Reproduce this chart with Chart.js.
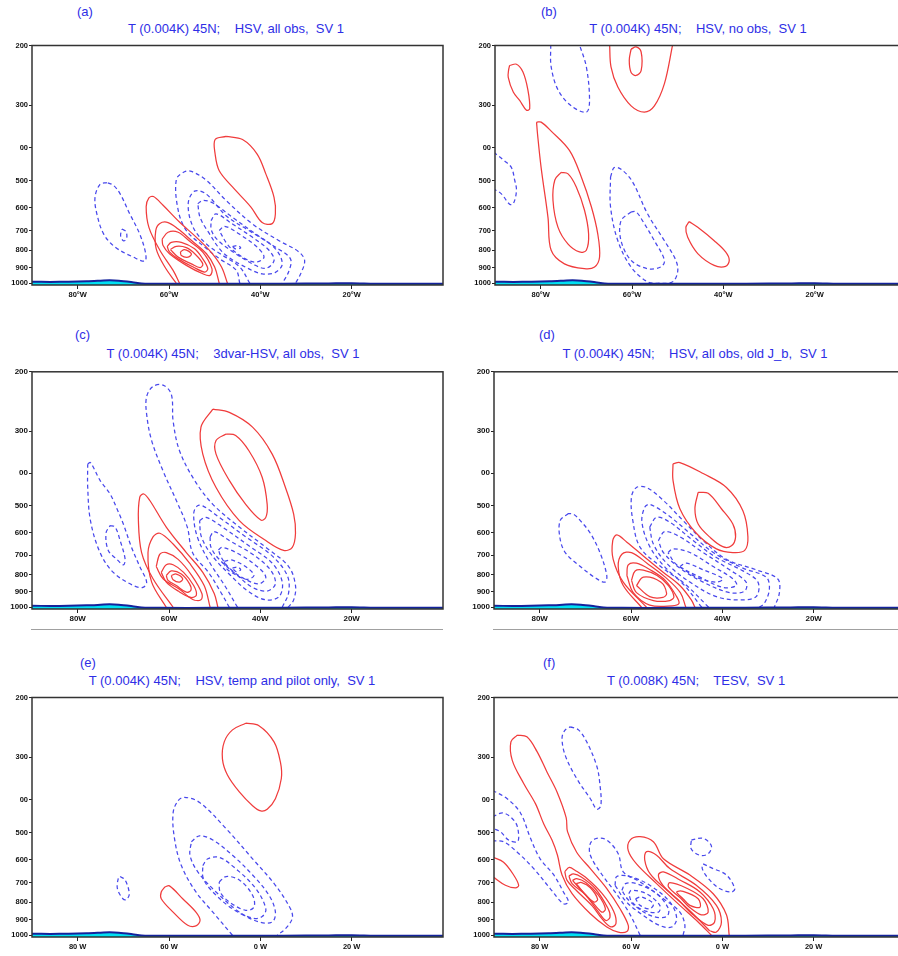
<!DOCTYPE html>
<html>
<head>
<meta charset="utf-8">
<script src="https://cdn.jsdelivr.net/npm/chart.js@4.4.0/dist/chart.umd.min.js"></script>
<style>
body{margin:0;background:#fff;width:898px;height:956px;overflow:hidden;position:relative;font-family:Arial,"Liberation Sans",sans-serif}
canvas{position:absolute}
.lab,.ttl{position:absolute;color:#2e2ee6;font-size:13px;white-space:pre;line-height:14px}
.ttl{transform:translateX(-50%)}
.rule{position:absolute;height:1px;background:#a0a0a0}
</style>
</head>
<body>
<div class="lab" style="left:77px;top:5px">(a)</div>
<div class="ttl" style="left:236px;top:22px">T (0.004K) 45N;    HSV, all obs,  SV 1</div>
<div class="lab" style="left:541px;top:5px">(b)</div>
<div class="ttl" style="left:698px;top:22px">T (0.004K) 45N;    HSV, no obs,  SV 1</div>
<div class="lab" style="left:75px;top:328px">(c)</div>
<div class="ttl" style="left:233px;top:347px">T (0.004K) 45N;    3dvar-HSV, all obs,  SV 1</div>
<div class="lab" style="left:539px;top:328px">(d)</div>
<div class="ttl" style="left:695px;top:347px">T (0.004K) 45N;    HSV, all obs, old J_b,  SV 1</div>
<div class="lab" style="left:80px;top:656px">(e)</div>
<div class="ttl" style="left:232px;top:674px">T (0.004K) 45N;    HSV, temp and pilot only,  SV 1</div>
<div class="lab" style="left:543px;top:656px">(f)</div>
<div class="ttl" style="left:696px;top:674px">T (0.008K) 45N;    TESV,  SV 1</div>

<canvas id="pa" width="450" height="265" style="left:0;top:40px"></canvas>
<canvas id="pb" width="450" height="265" style="left:463px;top:40px"></canvas>
<canvas id="pc" width="450" height="263" style="left:0;top:366px"></canvas>
<canvas id="pd" width="450" height="263" style="left:462px;top:366px"></canvas>
<canvas id="pe" width="450" height="265" style="left:0;top:692px"></canvas>
<canvas id="pf" width="450" height="265" style="left:462px;top:692px"></canvas>
<div class="rule" style="left:31px;top:629px;width:412px"></div>
<div class="rule" style="left:493px;top:629px;width:405px"></div>

<script>
// axes
const yTickVals = [200, 300, 400, 500, 600, 700, 800, 900, 1000];
const yLabels = ["200", "300", "00", "500", "600", "700", "800", "900", "1000"];
const xTickVals = [-80, -60, -40, -20];
const xLabelsDeg = ["80°W", "60°W", "40°W", "20°W"];
const xLabelsPlain = ["80W", "60W", "40W", "20W"];
const xLabelsSp = ["80 W", "60 W", "0 W", "20 W"];

// surface (orography) line near 1000 hPa
const surfLon = [-90, -86, -82, -78, -75, -73, -71, -68, -66, -62, -50, -35, -25, -20, -15, -8, 0];
const surfP = [990, 991, 990, 987, 983, 980, 983, 993, 1001, 1004, 1004, 1003, 1001, 1000, 1003, 1004, 1003];

// contours: [lon, pressure]; red = positive, blue = negative
const aRed = [
  [[-47.5,370],[-43.9,378],[-40.7,417],[-38.8,477],[-37.0,559],[-36.7,625],[-37.4,668],[-39.6,663],[-42.1,596],[-46.1,521],[-49.0,467],[-49.9,417],[-49.9,378]],
  [[-57.7,1000],[-59.1,917],[-62.0,800],[-64.4,685],[-65.0,596],[-64.4,561],[-63.4,556],[-61.3,590],[-57.6,663],[-54.0,733],[-50.8,810],[-48.5,896],[-47.2,1000]],
  [[-58.4,1000],[-60.9,896],[-62.8,792],[-62.9,700],[-62.0,667],[-60.2,663],[-58.0,693],[-55.0,750],[-51.8,819],[-50.0,896],[-49.0,1000]],
  [[-61.5,742],[-60.2,708],[-58.0,708],[-55.6,750],[-52.6,810],[-50.6,906],[-51.0,948],[-52.6,938],[-56.2,886],[-59.9,819],[-61.3,775]],
  [[-60.4,779],[-59.5,758],[-57.3,758],[-54.4,792],[-52.6,848],[-51.5,906],[-52.2,927],[-54.7,896],[-58.0,848],[-59.9,809]],
  [[-59.7,796],[-58.4,779],[-56.2,786],[-54.2,823],[-52.6,877],[-53.2,900],[-55.1,877],[-58.0,838]],
  [[-57.5,809],[-56.6,796],[-55.1,819],[-55.8,838],[-57.3,829]]
];
const aBlue = [
  [[-73.6,506],[-75.1,512],[-76.2,559],[-75.8,625],[-74.3,717],[-71.8,783],[-67.8,838],[-65.3,861],[-65.1,819],[-66.4,717],[-68.6,625],[-70.7,546],[-72.2,515]],
  [[-70.3,693],[-69.4,705],[-69.3,740],[-70.0,750],[-70.6,725]],
  [[-44.5,1000],[-45.3,915],[-48.9,848],[-52.6,775],[-56.2,700],[-58.0,609],[-58.4,496],[-56.6,470],[-55.1,469],[-51.9,497],[-47.5,571],[-41.7,670],[-35.9,750],[-31.6,808],[-30.3,858],[-31.2,940],[-32.3,1000]],
  [[-42.3,1000],[-44.5,896],[-48.2,829],[-51.8,767],[-54.7,685],[-55.8,584],[-54.4,536],[-51.9,546],[-47.5,633],[-42.5,700],[-36.7,783],[-33.4,848],[-33.8,925],[-35.2,1000]],
  [[-53.7,584],[-52.6,571],[-50.4,581],[-46.1,640],[-41.0,717],[-36.7,792],[-35.2,877],[-36.7,929],[-39.6,938],[-43.0,900],[-48.0,817],[-51.6,700],[-53.2,640]],
  [[-50.8,655],[-49.7,625],[-46.1,670],[-41.7,733],[-38.1,800],[-37.0,858],[-38.8,904],[-41.5,880],[-45.5,817],[-49.2,750],[-50.7,700]],
  [[-49.0,700],[-47.8,680],[-44.6,717],[-40.7,783],[-39.2,838],[-41.0,867],[-43.8,840],[-47.0,775]],
  [[-46.1,780],[-45.0,775],[-44.3,787],[-45.4,793]]
];

const bRed = [
  [[-86.8,229],[-85.3,227],[-83.9,239],[-82.8,270],[-82.4,307],[-83.1,310],[-84.6,290],[-86.0,274],[-87.1,248],[-87.0,235]],
  [[-64.9,199],[-64.6,231],[-63.1,265],[-60.2,301],[-57.3,314],[-55.1,301],[-52.9,259],[-51.1,199]],
  [[-60.2,205],[-59.1,202],[-58.0,209],[-58.0,237],[-59.1,245],[-60.2,240],[-60.6,221]],
  [[-80.9,336],[-79.9,336],[-77.7,357],[-73.7,407],[-71.1,487],[-68.9,596],[-67.5,716],[-67.1,837],[-68.2,896],[-70.4,906],[-74.8,877],[-77.7,800],[-78.4,640],[-79.9,457],[-80.7,363]],
  [[-75.5,472],[-74.0,477],[-72.2,521],[-70.4,610],[-69.5,717],[-70.0,800],[-71.5,809],[-74.0,767],[-76.2,685],[-77.3,571],[-76.9,497]],
  [[-47.5,659],[-45.6,685],[-42.0,750],[-39.5,809],[-38.7,856],[-39.5,892],[-42.0,886],[-45.6,818],[-47.8,733],[-48.2,685]]
];
const bBlue = [
  [[-77.8,199],[-77.7,231],[-76.2,270],[-73.3,301],[-70.0,314],[-69.3,290],[-70.0,231],[-71.5,199]],
  [[-90.3,412],[-87.9,437],[-86.4,457],[-85.7,497],[-85.3,534],[-86.0,584],[-86.8,586],[-88.6,546],[-90.3,528]],
  [[-64.7,487],[-63.9,457],[-62.4,462],[-59.9,503],[-56.6,625],[-52.9,750],[-50.4,856],[-50.0,925],[-51.1,990],[-54.0,1000],[-56.6,990],[-60.2,896],[-63.1,750],[-64.7,596]],
  [[-60.2,617],[-62.4,655],[-62.4,750],[-60.2,856],[-56.6,906],[-53.7,896],[-52.9,856],[-55.1,750],[-57.7,655],[-59.1,617]]
];

const cRed = [
  [[-50.4,258],[-46.8,264],[-41.7,292],[-37.4,351],[-34.5,441],[-32.7,529],[-32.3,603],[-33.0,664],[-34.9,678],[-38.8,634],[-44.6,553],[-49.7,441],[-52.6,351],[-53.0,292]],
  [[-47.5,306],[-45.4,309],[-42.5,343],[-39.6,411],[-38.5,495],[-38.8,541],[-39.9,551],[-43.2,495],[-46.8,420],[-49.7,351],[-49.7,320]],
  [[-59.1,1000],[-63.5,823],[-66.0,688],[-66.7,553],[-66.4,471],[-65.5,461],[-64.2,482],[-60.6,578],[-56.2,688],[-52.6,788],[-50.1,910],[-49.3,1000]],
  [[-60.6,1000],[-63.8,842],[-64.6,688],[-63.5,618],[-62.0,603],[-59.1,649],[-55.5,740],[-52.3,862],[-51.0,1000]],
  [[-62.8,757],[-62.0,696],[-60.6,688],[-58.0,721],[-55.0,805],[-52.8,910],[-53.0,950],[-54.8,948],[-57.7,884],[-61.3,823]],
  [[-61.7,788],[-60.6,748],[-59.1,748],[-56.8,788],[-54.6,862],[-54.0,920],[-55.2,935],[-58.0,895],[-60.6,842]],
  [[-60.6,805],[-59.5,780],[-57.3,797],[-55.5,852],[-55.2,890],[-56.2,902],[-58.4,862],[-60.2,832]],
  [[-59.5,805],[-58.4,797],[-57.0,823],[-57.7,842],[-59.1,828]]
];
const cBlue = [
  [[-46.8,1000],[-48.5,910],[-51.3,790],[-54.8,690],[-56.0,578],[-58.4,482],[-61.3,394],[-63.8,320],[-64.9,267],[-64.9,237],[-63.5,221],[-61.3,219],[-59.5,233],[-59.1,280],[-57.7,343],[-54.4,420],[-50.4,495],[-44.6,578],[-38.8,664],[-33.8,757],[-32.3,862],[-32.7,951],[-33.9,1000]],
  [[-45.0,1000],[-47.8,862],[-51.0,740],[-53.8,618],[-54.6,529],[-53.8,500],[-52.6,500],[-49.0,541],[-43.2,618],[-37.4,704],[-34.1,805],[-33.8,905],[-35.2,1000]],
  [[-53.3,553],[-51.9,541],[-48.3,578],[-42.5,657],[-37.4,740],[-35.2,842],[-35.9,930],[-38.8,951],[-42.5,900],[-46.5,805],[-50.5,704],[-52.9,618]],
  [[-51.0,618],[-50.1,596],[-46.8,634],[-41.7,696],[-37.8,774],[-36.7,852],[-38.5,895],[-41.7,873],[-45.0,805],[-49.0,721],[-50.8,664]],
  [[-49.2,675],[-48.3,664],[-44.6,696],[-40.7,757],[-38.8,814],[-40.3,852],[-43.5,823],[-46.8,765],[-48.5,713]],
  [[-47.9,730],[-46.1,725],[-42.8,765],[-41.4,805],[-43.0,826],[-45.7,797],[-47.5,765]],
  [[-46.1,765],[-45.0,760],[-44.3,774],[-45.4,783]],
  [[-77.8,376],[-77.2,372],[-75.1,420],[-72.9,461],[-71.4,510],[-70.0,566],[-68.2,664],[-66.4,757],[-64.9,842],[-65.7,873],[-67.8,862],[-72.2,788],[-75.1,688],[-77.2,553],[-77.8,441]],
  [[-72.9,572],[-71.8,578],[-70.7,634],[-69.6,721],[-70.0,748],[-71.4,721],[-73.3,678],[-73.8,603]]
];

const dRed = [
  [[-50.8,375],[-49.3,372],[-44.2,401],[-39.1,441],[-35.5,517],[-34.4,618],[-35.1,678],[-37.7,688],[-41.3,671],[-45.7,603],[-49.3,510],[-50.8,420]],
  [[-45.3,456],[-43.1,459],[-40.2,510],[-37.7,566],[-37.1,618],[-38.0,657],[-39.9,661],[-42.8,618],[-45.3,566],[-46.0,510]],
  [[-56.6,1000],[-61.7,842],[-63.9,721],[-64.0,634],[-63.1,610],[-60.9,641],[-57.3,704],[-52.9,788],[-49.3,862],[-46.8,951],[-46.0,1000]],
  [[-57.7,1000],[-61.7,862],[-62.8,757],[-62.0,696],[-59.9,688],[-56.5,740],[-52.5,814],[-49.2,905],[-48.0,1000]],
  [[-60.9,805],[-60.6,748],[-58.8,740],[-55.8,774],[-52.5,832],[-50.0,930],[-49.5,975],[-51.0,990],[-55.9,985],[-59.5,905]],
  [[-59.9,832],[-59.1,780],[-57.3,776],[-54.3,805],[-51.8,862],[-50.6,930],[-51.5,955],[-55.1,955],[-58.8,905]],
  [[-58.8,862],[-57.3,814],[-53.5,842],[-52.2,910],[-53.0,935],[-55.9,930]]
];
const dBlue = [
  [[-73.7,527],[-75.5,553],[-75.6,618],[-74.4,688],[-71.1,757],[-67.5,823],[-65.7,842],[-65.3,805],[-66.8,688],[-68.9,603],[-71.1,553],[-72.6,529]],
  [[-44.5,1000],[-49.0,842],[-53.5,757],[-58.0,664],[-59.6,553],[-59.9,471],[-58.8,441],[-56.6,441],[-52.9,482],[-48.6,553],[-44.2,634],[-39.1,721],[-32.6,774],[-27.9,823],[-27.5,905],[-28.6,1000]],
  [[-43.0,1000],[-47.8,862],[-52.0,774],[-55.8,664],[-57.6,560],[-57.0,505],[-55.9,495],[-52.2,529],[-47.1,603],[-42.0,688],[-35.5,765],[-30.4,814],[-29.7,884],[-30.8,974],[-31.9,1000]],
  [[-55.9,578],[-54.4,541],[-51.5,559],[-46.4,634],[-41.3,712],[-35.5,780],[-32.2,842],[-32.6,930],[-36.2,951],[-41.3,930],[-47.1,842],[-52.2,740],[-55.1,649]],
  [[-54.0,634],[-52.6,596],[-49.3,618],[-44.2,688],[-38.4,774],[-34.8,842],[-35.1,895],[-38.4,905],[-44.2,842],[-49.3,765],[-52.9,688]],
  [[-51.9,688],[-50.8,671],[-47.1,688],[-42.0,757],[-37.7,823],[-36.9,862],[-39.9,873],[-44.9,814],[-50.0,748]],
  [[-49.3,757],[-47.9,740],[-44.2,774],[-39.9,823],[-41.3,842],[-45.7,814]]
];

const eRed = [
  [[-43.2,238],[-40.3,242],[-37.0,270],[-35.6,310],[-35.4,346],[-36.7,397],[-38.5,426],[-39.9,431],[-41.7,416],[-44.6,379],[-47.2,338],[-48.3,303],[-47.9,270],[-46.1,249]],
  [[-60.9,721],[-59.9,716],[-57.0,781],[-54.1,855],[-53.2,904],[-54.1,939],[-55.9,935],[-59.1,855],[-61.7,781],[-61.7,746]]
];
const eBlue = [
  [[-46.1,1000],[-50.4,855],[-54.1,746],[-57.3,624],[-58.8,519],[-59.1,437],[-58.0,402],[-56.6,393],[-53.3,407],[-47.5,486],[-41.7,596],[-36.7,713],[-33.4,836],[-33.0,891],[-34.5,957],[-36.3,1000]],
  [[-55.1,531],[-53.3,510],[-50.4,525],[-46.1,582],[-41.7,665],[-38.1,763],[-36.7,855],[-37.4,914],[-40.3,914],[-44.6,855],[-49.7,746],[-53.7,651],[-55.4,582]],
  [[-52.6,624],[-51.5,596],[-49.0,590],[-45.4,637],[-41.0,729],[-38.8,836],[-39.6,881],[-41.7,891],[-46.1,836],[-50.4,746],[-52.5,680]],
  [[-49.0,697],[-47.5,672],[-44.6,688],[-41.7,763],[-41.4,827],[-43.2,845],[-46.8,798],[-48.8,746]],
  [[-70.7,672],[-69.6,688],[-68.7,755],[-69.3,785],[-70.1,781],[-71.3,729],[-71.1,680]]
];

const fRed = [
  [[-84.9,258],[-82.8,261],[-80.6,288],[-78.4,331],[-76.2,379],[-74.2,451],[-73.9,496],[-71.9,570],[-68.9,637],[-65.3,729],[-62.4,836],[-60.6,935],[-60.9,975],[-62.8,979],[-65.3,946],[-68.9,865],[-72.9,755],[-75.1,665],[-76.1,582],[-77.3,525],[-79.1,471],[-80.9,411],[-83.5,358],[-86.0,306],[-86.3,270]],
  [[-74.5,650],[-73.5,632],[-72.2,645],[-69.7,680],[-66.3,755],[-63.8,850],[-63.3,925],[-64.4,945],[-66.2,900],[-68.5,820],[-71.9,740],[-74.0,690]],
  [[-73.6,670],[-72.6,660],[-70.8,675],[-67.8,730],[-65.0,836],[-64.6,885],[-65.5,905],[-67.1,855],[-70.0,760],[-72.9,705]],
  [[-72.8,690],[-71.9,682],[-69.9,700],[-67.1,763],[-65.6,836],[-66.4,855],[-68.5,798],[-71.2,729]],
  [[-72.0,705],[-70.8,700],[-68.9,725],[-67.3,785],[-68.2,798],[-70.5,746]],
  [[-42.4,1000],[-45.3,914],[-49.3,817],[-54.4,705],[-58.8,617],[-60.6,564],[-60.2,525],[-58.0,513],[-55.1,531],[-52.9,596],[-47.1,665],[-42.0,755],[-39.1,871],[-38.5,1000]],
  [[-42.8,970],[-47.0,850],[-52.0,740],[-55.8,660],[-57.0,600],[-56.6,568],[-54.4,582],[-51.5,637],[-45.7,713],[-41.3,817],[-40.2,914],[-41.3,979]],
  [[-49.5,790],[-53.0,713],[-54.0,665],[-52.9,651],[-49.3,688],[-44.9,746],[-42.0,836],[-41.7,914],[-43.1,935],[-46.4,871]],
  [[-49.0,781],[-51.8,721],[-51.5,700],[-47.9,726],[-44.2,781],[-43.1,855],[-44.6,871],[-47.2,827]],
  [[-48.6,781],[-50.0,746],[-48.6,743],[-45.3,781],[-44.9,827],[-47.1,817]],
  [[-90.3,589],[-87.9,610],[-85.7,665],[-84.6,713],[-85.3,726],[-87.5,713],[-90.3,672]]
];
const fBlue = [
  [[-58.0,1000],[-60.5,855],[-63.5,746],[-66.3,665],[-68.9,582],[-68.9,537],[-67.5,519],[-65.3,525],[-62.8,576],[-61.7,651],[-58.0,697],[-52.9,781],[-49.3,855],[-48.2,935],[-48.6,1000]],
  [[-63.5,713],[-63.1,672],[-60.2,672],[-55.9,713],[-51.5,798],[-50.0,891],[-51.1,946],[-53.8,935],[-57.5,871],[-61.0,798]],
  [[-62.0,738],[-61.2,705],[-58.8,705],[-54.4,755],[-51.8,836],[-52.2,881],[-55.1,881],[-58.3,836],[-60.8,781]],
  [[-60.5,755],[-59.9,738],[-56.6,755],[-53.7,817],[-54.0,855],[-57.3,845],[-59.8,798]],
  [[-59.0,781],[-57.7,772],[-55.1,808],[-55.9,836],[-58.0,817]],
  [[-73.3,244],[-71.5,249],[-69.7,270],[-67.5,318],[-66.8,361],[-66.6,416],[-67.5,426],[-68.9,397],[-71.9,346],[-74.4,296],[-75.1,263],[-74.4,249]],
  [[-90.3,375],[-87.1,397],[-84.2,437],[-82.0,519],[-79.9,596],[-76.9,665],[-74.8,746],[-73.7,798],[-74.8,808],[-77.7,729],[-81.3,637],[-84.9,570],[-87.9,531],[-90.3,528]],
  [[-90.3,448],[-87.9,437],[-85.3,466],[-84.6,507],[-84.9,531],[-86.8,525],[-88.6,496],[-90.3,485]],
  [[-46.8,525],[-44.2,519],[-42.4,546],[-43.1,576],[-44.9,582],[-46.8,558]],
  [[-44.2,617],[-42.0,637],[-39.1,665],[-37.3,729],[-38.0,746],[-40.6,729],[-43.1,680],[-44.4,637]]
];

const redCol = "#f03c3c";
const blueCol = "#4848ec";

function contour(loop, color, dash) {
  let pts = loop.map(p => ({x: p[0], y: p[1]}));
  let first = loop[0];
  let open = first[1] >= 995 || first[1] <= 201 || first[0] <= -90;
  if (!open) pts.push({x: first[0], y: first[1]});
  return {
    data: pts, showLine: true, borderColor: color, borderWidth: 1.25,
    borderDash: dash, pointRadius: 0, tension: 0.35, fill: false
  };
}

function surface() {
  return {
    data: surfLon.map((x, i) => ({x: x, y: surfP[i]})),
    showLine: true, borderColor: "#14229c", borderWidth: 2,
    backgroundColor: "#00e0f2", fill: {value: 1012},
    pointRadius: 0, tension: 0.3
  };
}

const frame = {
  id: "frame",
  afterDraw(chart) {
    const a = chart.chartArea, ctx = chart.ctx;
    ctx.save();
    ctx.strokeStyle = "#333";
    ctx.lineWidth = 1.5;
    ctx.strokeRect(a.left, a.top, a.right - a.left, a.bottom - a.top);
    ctx.restore();
  }
};

function panel(id, red, blue, xLab, heavy) {
  let sets = [surface()];
  red.forEach(l => sets.push(contour(l, redCol, [])));
  blue.forEach(l => sets.push(contour(l, blueCol, [4, 3])));
  let font = {family: "Arial", size: heavy ? 8 : 7.5, weight: "bold"};

  new Chart(document.getElementById(id), {
    type: "scatter",
    data: {datasets: sets},
    plugins: [frame],
    options: {
      responsive: false,
      animation: false,
      devicePixelRatio: 1,
      layout: {padding: {top: 5, right: 7, left: 0, bottom: 0}},
      plugins: {legend: {display: false}, tooltip: {enabled: false}},
      scales: {
        x: {
          type: "linear", min: -90, max: 0,
          afterBuildTicks: s => { s.ticks = xTickVals.map(v => ({value: v})); },
          afterFit: s => { s.height = 20; },
          ticks: {callback: (v, i) => xLab[i], font: font, color: "#111", padding: 1, maxRotation: 0, autoSkip: false},
          grid: {drawOnChartArea: false, drawTicks: true, tickLength: 4, color: "#222"},
          border: {display: false}
        },
        y: {
          type: "logarithmic", reverse: true, min: 200, max: 1012,
          afterBuildTicks: s => { s.ticks = yTickVals.map(v => ({value: v})); },
          afterFit: s => { s.width = 32; },
          ticks: {callback: (v, i) => yLabels[i], font: font, color: "#111", padding: 1, autoSkip: false},
          grid: {drawOnChartArea: false, drawTicks: true, tickLength: 3, color: "#222"},
          border: {display: false}
        }
      }
    }
  });
}

panel("pa", aRed, aBlue, xLabelsDeg, false);
panel("pb", bRed, bBlue, xLabelsDeg, false);
panel("pc", cRed, cBlue, xLabelsPlain, true);
panel("pd", dRed, dBlue, xLabelsPlain, true);
panel("pe", eRed, eBlue, xLabelsSp, false);
panel("pf", fRed, fBlue, xLabelsSp, false);
</script>
</body>
</html>
